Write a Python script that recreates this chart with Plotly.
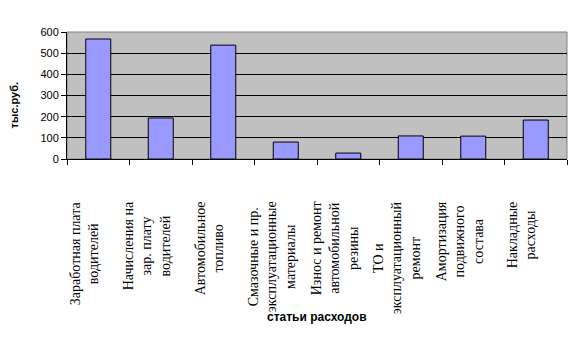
import plotly.graph_objects as go

categories = [
    "Заработная плата<br>водителей",
    "Начисления на<br>зар. плату<br>водителей",
    "Автомобильное<br>топливо",
    "Смазочные и пр.<br>эксплуатационные<br>материалы",
    "Износ и ремонт<br>автомобильной<br>резины",
    "ТО и<br>эксплуатационный<br>ремонт",
    "Амортизация<br>подвижного<br>состава",
    "Накладные<br>расходы",
]
values = [567, 194, 538, 80, 28, 109, 108, 184]
y_ticks = [0, 100, 200, 300, 400, 500, 600]

fig = go.Figure()
fig.add_trace(go.Bar(
    x=list(range(len(categories))), y=values,
    marker=dict(color="#9999FF", line=dict(color="black", width=1)),
    width=0.4,
))

annotations = []
for i, lab in enumerate(categories):
    annotations.append(dict(
        x=i, xref="x", y=0, yref="paper", yanchor="top", xanchor="center",
        yshift=-40, xshift=-14, text=lab, textangle=-90, align="center",
        showarrow=False, font=dict(family="Liberation Serif, Times New Roman, serif", size=14, color="black"),
    ))
annotations.append(dict(
    x=0.5, xref="paper", y=0, yref="paper", yanchor="middle", xanchor="center",
    yshift=-158, text="<b>статьи расходов</b>", showarrow=False,
    font=dict(family="Liberation Sans, Arial, sans-serif", size=12, color="black"),
))
annotations.append(dict(
    x=0, xref="paper", y=0.5, yref="paper", xanchor="center", yanchor="middle",
    xshift=-54, yshift=-10, text="<b>тыс.руб.</b>", textangle=-90, showarrow=False,
    font=dict(family="Liberation Sans, Arial, sans-serif", size=11, color="black"),
))

fig.update_layout(
    width=585, height=346,
    margin=dict(l=67, r=18, t=32, b=187),
    paper_bgcolor="white", plot_bgcolor="#C0C0C0",
    showlegend=False,
    annotations=annotations,
    shapes=[dict(type="rect", xref="paper", yref="paper", x0=0, y0=0, x1=1, y1=1,
                 line=dict(color="#808080", width=1), layer="below")],
    xaxis=dict(
        range=[-0.5, len(categories) - 0.5],
        tickvals=[i - 0.5 for i in range(len(categories) + 1)],
        showticklabels=False, ticks="outside", ticklen=5, tickcolor="black",
        showline=True, linecolor="black", linewidth=1, showgrid=False, zeroline=False,
    ),
    yaxis=dict(
        range=[0, 600], tickvals=y_ticks, ticks="outside", ticklen=5, tickcolor="black",
        showline=True, linecolor="black", linewidth=1,
        showgrid=True, gridcolor="black", gridwidth=1, zeroline=False,
        tickfont=dict(family="Liberation Sans, Arial, sans-serif", size=11, color="black"),
    ),
)
fig.write_html("out.html")
